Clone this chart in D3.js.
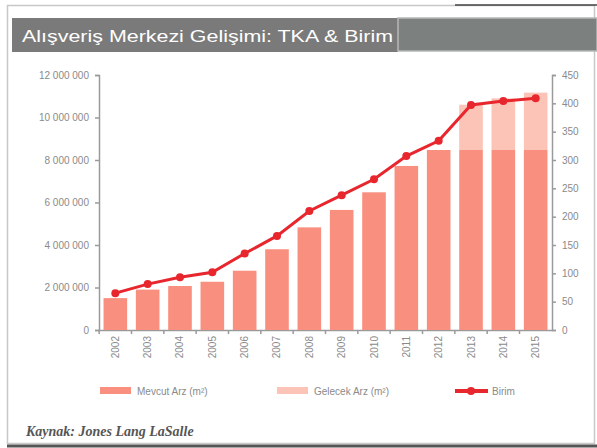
<!DOCTYPE html>
<html>
<head>
<meta charset="utf-8">
<script src="https://cdn.jsdelivr.net/npm/d3@7"></script>
<style>
  body { margin: 0; background: #fff; }
  text { font-family: "Liberation Sans", Arial, sans-serif; }
</style>
</head>
<body>
<div id="chart"></div>
<script>
// years on the x axis
var years = ["2002","2003","2004","2005","2006","2007","2008","2009","2010","2011","2012","2013","2014","2015"];
// existing supply (m2)
var mevcut = [1500000, 1900000, 2070000, 2270000, 2790000, 3800000, 4830000, 5650000, 6480000, 7720000, 8470000, 8470000, 8470000, 8470000];
// future supply on top (m2)
var gelecek = [0, 0, 0, 0, 0, 0, 0, 0, 0, 0, 0, 2130000, 2430000, 2700000];
// number of centres
var birim = [65, 81, 93, 102, 135, 166, 210, 238, 266, 307, 334, 397, 404, 409];
var leftTicks = [0, 2000000, 4000000, 6000000, 8000000, 10000000, 12000000];
var rightTicks = [0, 50, 100, 150, 200, 250, 300, 350, 400, 450];

var colors = {mevcut: "#f98f7f", gelecek: "#fcc4b6", birim: "#e8262e", axis: "#9a9a9a", text: "#8a8a8a"};

var W = 597, H = 448;
var margin = {top: 75, right: 45, bottom: 118, left: 99},
    width = 552 - margin.left,
    height = 330 - margin.top;

var svg = d3.select("#chart")
  .append("svg")
    .attr("width", W)
    .attr("height", H);

// outer frame
svg.append("rect")
  .attr("x", 7.5).attr("y", 5.5)
  .attr("width", 587).attr("height", 438)
  .attr("fill", "none").attr("stroke", "#c8c8c8").attr("stroke-width", 1.5);
svg.append("line")
  .attr("x1", 7).attr("x2", 597).attr("y1", 446).attr("y2", 446)
  .attr("stroke", "#555").attr("stroke-width", 3);
svg.append("line")
  .attr("x1", 455).attr("x2", 597).attr("y1", 5).attr("y2", 5)
  .attr("stroke", "#444").attr("stroke-width", 1.5);

// title band
svg.append("rect")
  .attr("x", 12).attr("y", 18).attr("width", 386).attr("height", 34)
  .attr("fill", "#7a7a7a");
svg.append("rect")
  .attr("x", 398).attr("y", 18).attr("width", 199).attr("height", 33)
  .attr("fill", "#7c817f").attr("stroke", "#b5b8b6").attr("stroke-width", 1.5);
svg.append("text")
  .attr("x", 22).attr("y", 42)
  .attr("fill", "#fff")
  .attr("font-size", 17)
  .attr("textLength", 371)
  .attr("lengthAdjust", "spacingAndGlyphs")
  .text("Alışveriş Merkezi Gelişimi: TKA & Birim");

var g = svg.append("g")
  .attr("transform", "translate(" + margin.left + "," + margin.top + ")");

// scales
var x = d3.scaleBand()
  .domain(years)
  .range([0, width])
  .paddingInner(0.27)
  .paddingOuter(0.14);

var y = d3.scaleLinear()
  .domain([0, 12000000])
  .range([height, 0]);

var y2 = d3.scaleLinear()
  .domain([0, 450])
  .range([height, 0]);

var fmt = function(d) { return d3.format(",")(d).replace(/,/g, " "); };

// left axis
var yAxis = g.append("g")
  .call(d3.axisLeft(y).tickValues(leftTicks).tickFormat(fmt).tickSize(4).tickPadding(6));
// right axis
var yAxis2 = g.append("g")
  .attr("transform", "translate(" + width + ",0)")
  .call(d3.axisRight(y2).tickValues(rightTicks).tickSize(4).tickPadding(6));
// bottom axis, ticks between bars
var xAxis = g.append("g")
  .attr("transform", "translate(0," + height + ")")
  .call(d3.axisBottom(x).tickSize(0).tickPadding(5));
xAxis.selectAll(".tick line").remove();
xAxis.selectAll("text")
  .attr("transform", "rotate(-90)")
  .attr("x", -6).attr("y", 0).attr("dy", "0.35em")
  .style("text-anchor", "end");
xAxis.selectAll(".sep")
  .data(years)
  .enter()
  .append("line")
    .attr("class", "sep")
    .attr("x1", function(d) { return x(d) - x.step() * x.paddingInner() / 2; })
    .attr("x2", function(d) { return x(d) - x.step() * x.paddingInner() / 2; })
    .attr("y1", 0).attr("y2", 4)
    .attr("stroke", colors.axis);

[yAxis, yAxis2, xAxis].forEach(function(a) {
  a.selectAll("path, line").attr("stroke", colors.axis).attr("stroke-width", 1.5);
  a.selectAll("text").attr("fill", colors.text).attr("font-size", 10);
});

// bars: existing
g.selectAll("rect.mevcut")
  .data(years)
  .enter()
  .append("rect")
    .attr("class", "mevcut")
    .attr("x", function(d) { return x(d); })
    .attr("width", x.bandwidth())
    .attr("y", function(d, i) { return y(mevcut[i]); })
    .attr("height", function(d, i) { return height - y(mevcut[i]); })
    .attr("fill", colors.mevcut);

// bars: future, stacked on existing
g.selectAll("rect.gelecek")
  .data(years)
  .enter()
  .append("rect")
    .attr("class", "gelecek")
    .attr("x", function(d) { return x(d); })
    .attr("width", x.bandwidth())
    .attr("y", function(d, i) { return y(mevcut[i] + gelecek[i]); })
    .attr("height", function(d, i) { return y(mevcut[i]) - y(mevcut[i] + gelecek[i]); })
    .attr("fill", colors.gelecek);

// line: birim
var line = d3.line()
  .x(function(d, i) { return x(years[i]) + x.bandwidth() / 2; })
  .y(function(d) { return y2(d); });

g.append("path")
  .datum(birim)
  .attr("fill", "none")
  .attr("stroke", colors.birim)
  .attr("stroke-width", 3)
  .attr("d", line);

g.selectAll("circle.birim")
  .data(birim)
  .enter()
  .append("circle")
    .attr("class", "birim")
    .attr("cx", function(d, i) { return x(years[i]) + x.bandwidth() / 2; })
    .attr("cy", function(d) { return y2(d); })
    .attr("r", 4)
    .attr("fill", colors.birim);

// legend
var legend = svg.append("g").attr("transform", "translate(0,390)");
var items = [
  {label: "Mevcut Arz (m²)", color: colors.mevcut, x: 100, type: "rect"},
  {label: "Gelecek Arz (m²)", color: colors.gelecek, x: 277, type: "rect"},
  {label: "Birim", color: colors.birim, x: 455, type: "line"}
];
items.forEach(function(it) {
  if (it.type === "rect") {
    legend.append("rect")
      .attr("x", it.x).attr("y", -3).attr("width", 31).attr("height", 7)
      .attr("fill", it.color);
  } else {
    legend.append("line")
      .attr("x1", it.x).attr("x2", it.x + 33).attr("y1", 1).attr("y2", 1)
      .attr("stroke", it.color).attr("stroke-width", 4);
    legend.append("circle")
      .attr("cx", it.x + 16).attr("cy", 1).attr("r", 4).attr("fill", it.color);
  }
  legend.append("text")
    .attr("x", it.x + 37).attr("y", 1).attr("dy", "0.35em")
    .attr("font-size", 10).attr("fill", colors.text)
    .text(it.label);
});

// source
svg.append("text")
  .attr("x", 26).attr("y", 436)
  .style("font-family", "'Liberation Serif', 'Times New Roman', serif")
  .attr("font-size", 14)
  .attr("font-style", "italic")
  .attr("font-weight", "bold")
  .attr("fill", "#555")
  .text("Kaynak: Jones Lang LaSalle");
</script>
</body>
</html>
